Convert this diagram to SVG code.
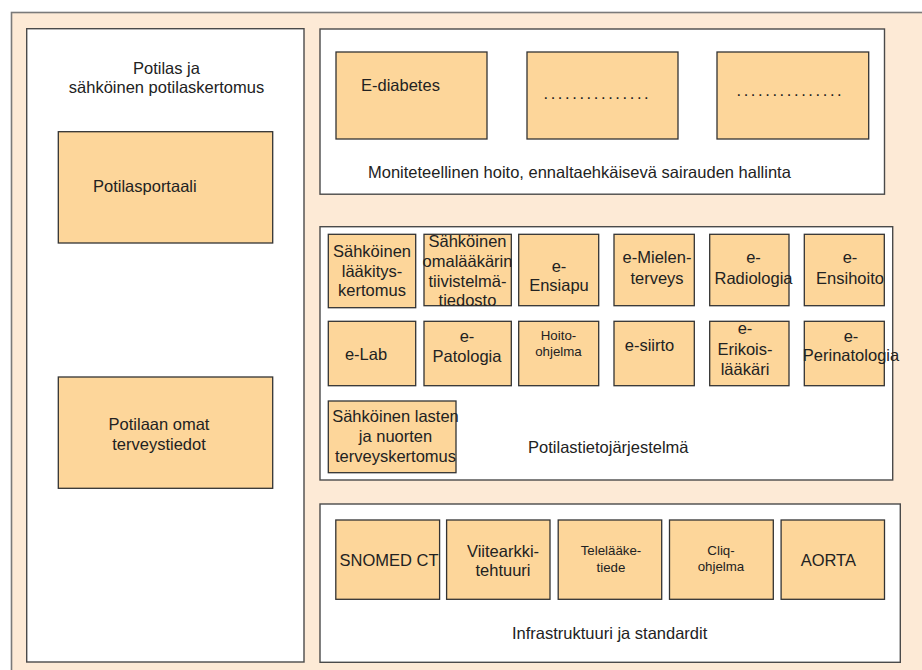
<svg xmlns="http://www.w3.org/2000/svg" width="922" height="670" viewBox="0 0 922 670">
  <style>
    text { font-family: "Liberation Sans", Arial, sans-serif; font-size: 16.5px; fill: #222; }
    .c { text-anchor: middle; }
    .s { font-size: 13.3px; }
    .frame { fill: #FDEAD6; stroke: #7a7a7a; stroke-width: 1.6; }
    .panel { fill: #ffffff; stroke: #4a4a4a; stroke-width: 1.4; }
    .box { fill: #FDD69A; stroke: #333; stroke-width: 1.3; }
    .dots { letter-spacing: 2.6px; }
  </style>

  <rect width="922" height="670" fill="#ffffff"/>
  <!-- background frame -->
  <rect class="frame" x="11.5" y="12.5" width="920" height="670"/>

  <!-- left column: patient and electronic record -->
  <g id="panel-potilas">
    <rect class="panel" x="26.7" y="28.7" width="277.3" height="633.3"/>
    <text class="c" x="166.5" y="74">Potilas ja</text>
    <text class="c" x="166.5" y="93">sähköinen potilaskertomus</text>
  </g>
  <g id="potilasportaali">
    <rect class="box" x="58.3" y="131.7" width="214.4" height="111.3"/>
    <text x="93" y="192">Potilasportaali</text>
  </g>
  <g id="omat-terveystiedot">
    <rect class="box" x="58.3" y="377" width="214.4" height="111.3"/>
    <text class="c" x="159" y="430">Potilaan omat</text>
    <text class="c" x="159" y="450">terveystiedot</text>
  </g>

  <!-- top: multidisciplinary care -->
  <g id="panel-hoito">
    <rect class="panel" x="320" y="29" width="564.5" height="165.2"/>
    <text x="368" y="178">Moniteteellinen hoito, ennaltaehkäisevä sairauden hallinta</text>
  </g>
  <g id="e-diabetes">
    <rect class="box" x="336" y="52" width="151" height="87"/>
    <text x="361" y="91">E-diabetes</text>
  </g>
  <g id="hoito-2">
    <rect class="box" x="527" y="52" width="151" height="87"/>
    <text class="dots" x="543.5" y="98.7">...............</text>
  </g>
  <g id="hoito-3">
    <rect class="box" x="717" y="52" width="151.7" height="87"/>
    <text class="dots" x="736.5" y="96">...............</text>
  </g>

  <!-- middle: patient information system -->
  <g id="panel-potilastieto">
    <rect class="panel" x="320" y="226.7" width="572.7" height="253.3"/>
    <text class="c" x="608.3" y="453.3">Potilastietojärjestelmä</text>
  </g>
  <g id="laakityskertomus">
    <rect class="box" x="328.3" y="234.3" width="87.4" height="73.4"/>
    <text class="c" x="372" y="256.7">Sähköinen</text>
    <text class="c" x="372" y="276.7">lääkitys-</text>
    <text class="c" x="372" y="296">kertomus</text>
  </g>
  <g id="omalaakari">
    <rect class="box" x="424" y="234.3" width="87.3" height="71.4"/>
    <text class="c" x="467.5" y="247.3">Sähköinen</text>
    <text class="c" x="467.5" y="266.7">omalääkärin</text>
    <text class="c" x="467.5" y="286.7">tiivistelmä-</text>
    <text class="c" x="467.5" y="306">tiedosto</text>
  </g>
  <g id="e-ensiapu">
    <rect class="box" x="518.7" y="234.3" width="80" height="71.4"/>
    <text class="c" x="559" y="271.7">e-</text>
    <text class="c" x="559" y="291">Ensiapu</text>
  </g>
  <g id="e-mielenterveys">
    <rect class="box" x="614" y="234.3" width="80.3" height="71.4"/>
    <text class="c" x="657" y="263.3">e-Mielen-</text>
    <text class="c" x="657" y="283.5">terveys</text>
  </g>
  <g id="e-radiologia">
    <rect class="box" x="709.7" y="234.3" width="79.3" height="71.4"/>
    <text class="c" x="753.5" y="263.3">e-</text>
    <text class="c" x="753.5" y="283.5">Radiologia</text>
  </g>
  <g id="e-ensihoito">
    <rect class="box" x="804.3" y="234.3" width="80" height="71.4"/>
    <text class="c" x="850" y="263.3">e-</text>
    <text class="c" x="850" y="283.5">Ensihoito</text>
  </g>
  <g id="e-lab">
    <rect class="box" x="328.3" y="321.3" width="87.4" height="64.4"/>
    <text class="c" x="366" y="360">e-Lab</text>
  </g>
  <g id="e-patologia">
    <rect class="box" x="424" y="321.3" width="87.3" height="64.4"/>
    <text class="c" x="467" y="341.7">e-</text>
    <text class="c" x="467" y="361.7">Patologia</text>
  </g>
  <g id="hoito-ohjelma">
    <rect class="box" x="518.7" y="321.3" width="80" height="64.4"/>
    <text class="c s" x="558.5" y="340">Hoito-</text>
    <text class="c s" x="558.5" y="356">ohjelma</text>
  </g>
  <g id="e-siirto">
    <rect class="box" x="614" y="321.3" width="80.3" height="64.4"/>
    <text class="c" x="649.5" y="350.7">e-siirto</text>
  </g>
  <g id="e-erikoislaakari">
    <rect class="box" x="709.7" y="321.3" width="79.3" height="64.4"/>
    <text class="c" x="745" y="334">e-</text>
    <text class="c" x="745" y="355">Erikois-</text>
    <text class="c" x="745" y="375">lääkäri</text>
  </g>
  <g id="e-perinatologia">
    <rect class="box" x="804.3" y="321.3" width="80" height="64.4"/>
    <text class="c" x="851" y="341.7">e-</text>
    <text class="c" x="851" y="361">Perinatologia</text>
  </g>
  <g id="lasten-terveyskertomus">
    <rect class="box" x="328.3" y="401" width="127.7" height="71.7"/>
    <text class="c" x="395.5" y="421.7">Sähköinen lasten</text>
    <text class="c" x="395.5" y="441.7">ja nuorten</text>
    <text class="c" x="395.5" y="461.7">terveyskertomus</text>
  </g>

  <!-- bottom: infrastructure and standards -->
  <g id="panel-infra">
    <rect class="panel" x="320" y="504" width="580.3" height="158.3"/>
    <text class="c" x="609.6" y="639">Infrastruktuuri ja standardit</text>
  </g>
  <g id="snomed-ct">
    <rect class="box" x="335.8" y="520" width="103.8" height="79.3"/>
    <text class="c" x="389" y="566">SNOMED CT</text>
  </g>
  <g id="viitearkkitehtuuri">
    <rect class="box" x="446.6" y="520" width="103.4" height="79.3"/>
    <text class="c" x="503" y="556.7">Viitearkki-</text>
    <text class="c" x="503" y="576">tehtuuri</text>
  </g>
  <g id="telelaaketiede">
    <rect class="box" x="558.2" y="520" width="103.5" height="79.3"/>
    <text class="c s" x="611" y="555">Telelääke-</text>
    <text class="c s" x="611" y="571.7">tiede</text>
  </g>
  <g id="cliq-ohjelma">
    <rect class="box" x="669.5" y="520" width="103.8" height="79.3"/>
    <text class="c s" x="721" y="555">Cliq-</text>
    <text class="c s" x="721" y="571">ohjelma</text>
  </g>
  <g id="aorta">
    <rect class="box" x="781.1" y="520" width="103.4" height="79.3"/>
    <text class="c" x="828.3" y="565.7">AORTA</text>
  </g>
</svg>
